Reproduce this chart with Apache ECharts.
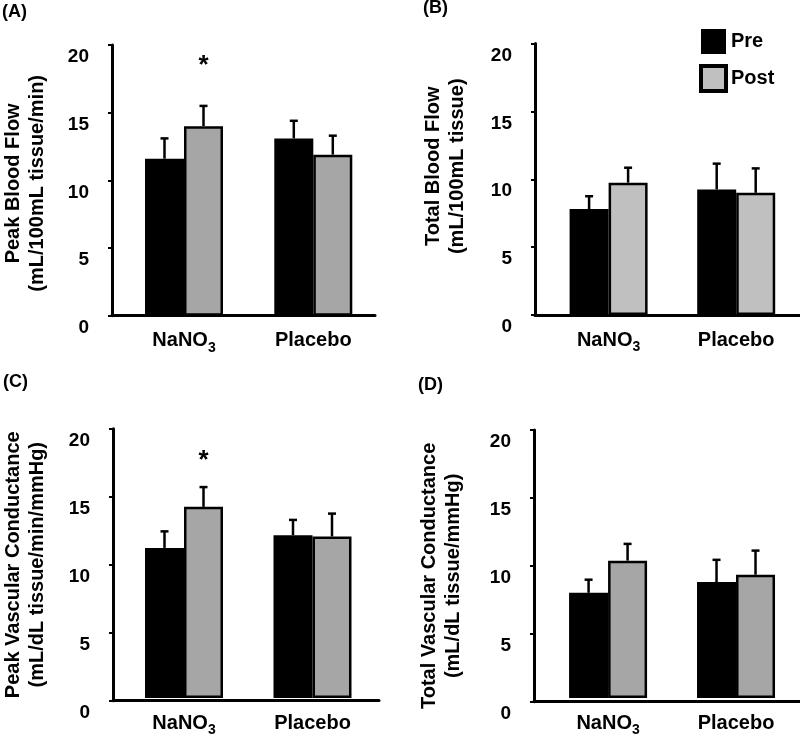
<!DOCTYPE html>
<html><head><meta charset="utf-8">
<script src="https://cdn.jsdelivr.net/npm/echarts@6/dist/echarts.min.js"></script>
<style>html,body{margin:0;padding:0;background:#fff}#c{width:800px;height:737px}</style>
</head><body><div id="c"></div>
<script>
// ---- data ----
const categories = ['NaNO3', 'Placebo'];
const seriesNames = ['Pre', 'Post'];
const yTickValues = [0, 5, 10, 15, 20];

// (A) Peak Blood Flow
const aPre = [11.6, 13.1], aPreSem = [1.5, 1.3];
const aPost = [14.0, 11.9], aPostSem = [1.5, 1.4];
const aSig = [[0, 18.45]];
// (B) Total Blood Flow
const bPre = [7.8, 9.25], bPreSem = [0.95, 1.9];
const bPost = [9.75, 9.0], bPostSem = [1.1, 1.8];
const bSig = [];
// (C) Peak Vascular Conductance
const cPre = [11.15, 12.1], cPreSem = [1.23, 1.13];
const cPost = [14.2, 12.0], cPostSem = [1.47, 1.7];
const cSig = [[0, 17.65]];
// (D) Total Vascular Conductance
const dPre = [7.85, 8.65], dPreSem = [0.98, 1.66];
const dPost = [10.25, 9.2], dPostSem = [1.25, 1.8];
const dSig = [];

const FONT = 'Liberation Sans, Arial, Helvetica, sans-serif';

const panels = [
  {title:'(A)', tl:2, tt:3, name:'Peak Blood Flow\n(mL/100mL tissue/min)',
   pre:aPre, preSem:aPreSem, post:aPost, postSem:aPostSem, sig:aSig, postColor:'#a6a6a6',
   axisX:109.5, xEnd:375, top:45, zero:315.7, c1:184, cw:129.3, nameGap:63, shift:3},
  {title:'(B)', tl:423, tt:-1, name:'Total Blood Flow\n(mL/100mL tissue)',
   pre:bPre, preSem:bPreSem, post:bPost, postSem:bPostSem, sig:bSig, postColor:'#c0c0c0',
   axisX:535, xEnd:800, top:43.5, zero:315, c1:609.3, cw:129, nameGap:66, shift:-13},
  {title:'(C)', tl:3, tt:373, name:'Peak Vascular Conductance\n(mL/dL tissue/min/mmHg)',
   pre:cPre, preSem:cPreSem, post:cPost, postSem:cPostSem, sig:cSig, postColor:'#a6a6a6',
   axisX:109.5, xEnd:379, top:428.8, zero:700.7, c1:184, cw:128.5, nameGap:64, shift:0},
  {title:'(D)', tl:418, tt:376, name:'Total Vascular Conductance\n(mL/dL tissue/mmHg)',
   pre:dPre, preSem:dPreSem, post:dPost, postSem:dPostSem, sig:dSig, postColor:'#a6a6a6',
   axisX:534, xEnd:800, top:430, zero:701.7, c1:608.3, cw:128.4, nameGap:69, shift:10}
];

const BAR_W = 39;

function errRender(offset) {
  return function (params, api) {
    const c = api.value(0), m = api.value(1), e = api.value(2);
    const p0 = api.coord([c, m]);
    const p1 = api.coord([c, m + e]);
    const x = p0[0] + offset;
    return {type: 'group', children: [
      {type: 'line', shape: {x1: x, y1: p0[1], x2: x, y2: p1[1]}, style: {stroke: '#000', lineWidth: 2.5}},
      {type: 'line', shape: {x1: x - 4, y1: p1[1], x2: x + 4, y2: p1[1]}, style: {stroke: '#000', lineWidth: 2.5}}
    ]};
  };
}
function sigRender(offset) {
  return function (params, api) {
    const p = api.coord([api.value(0), api.value(1)]);
    return {type: 'text', x: p[0] + offset, y: p[1],
      style: {text: '*', fontSize: 26, fontWeight: 'bold', fontFamily: FONT, fill: '#000',
              align: 'center', verticalAlign: 'middle'}};
  };
}

const grid = [], xAxis = [], yAxis = [], series = [], title = [];
panels.forEach((p, i) => {
  const fg = grid.length;
  grid.push({left: p.axisX, top: p.top, width: p.xEnd - p.axisX, height: p.zero - p.top});
  const bg = grid.length;
  grid.push({left: p.c1 - p.cw / 2, top: p.top, width: p.cw * 2, height: p.zero - p.top});
  title.push({text: p.title, left: p.tl, top: p.tt, padding: 0,
    textStyle: {fontSize: 18, fontWeight: 'bold', color: '#000', fontFamily: FONT}});

  // frame axes
  xAxis.push({gridIndex: fg, type: 'value', min: 0, max: 1, axisLine: {show: true, onZero: false, lineStyle: {color: '#000', width: 3}},
    axisTick: {show: false}, axisLabel: {show: false}, splitLine: {show: false}});
  yAxis.push({gridIndex: fg, type: 'value', min: yTickValues[0], max: yTickValues[yTickValues.length - 1], interval: yTickValues[1] - yTickValues[0],
    axisLine: {show: true, lineStyle: {color: '#000', width: 3}},
    axisTick: {show: true, length: 4, lineStyle: {color: '#000', width: 2}},
    splitLine: {show: false},
    axisLabel: {fontSize: 19, fontWeight: 'bold', color: '#000', fontFamily: FONT, margin: 23,
      verticalAlign: 'top', lineHeight: 24},
    name: p.name, nameLocation: 'middle', nameGap: p.nameGap,
    nameTextStyle: {fontSize: 20, fontWeight: 'bold', color: '#000', fontFamily: FONT, lineHeight: 24,
      padding: p.shift < 0 ? [0, 0, 0, -2 * p.shift] : [0, 2 * p.shift, 0, 0]}});

  // bar axes
  const bx = xAxis.length;
  xAxis.push({gridIndex: bg, type: 'category', data: categories,
    axisLine: {show: false}, axisTick: {show: false},
    axisLabel: {interval: 0, margin: 12, color: '#000', fontFamily: FONT, fontSize: 20, fontWeight: 'bold', lineHeight: 26,
      formatter: v => v === 'NaNO3' ? '{m|NaNO}{s|3}' : '{m|' + v + '}',
      rich: {m: {fontSize: 20, fontWeight: 'bold', fontFamily: FONT, color: '#000', lineHeight: 26},
             s: {fontSize: 14, fontWeight: 'bold', fontFamily: FONT, color: '#000', lineHeight: 26, padding: [14, 0, 0, 0]}}}});
  const by = yAxis.length;
  yAxis.push({gridIndex: bg, type: 'value', show: false, min: 0, max: 20});

  series.push({name: seriesNames[0], type: 'bar', xAxisIndex: bx, yAxisIndex: by, data: p.pre,
    barWidth: BAR_W, barGap: '0%', itemStyle: {color: '#000', borderColor: '#000', borderWidth: 2.5}, z: 2});
  series.push({name: seriesNames[1], type: 'bar', xAxisIndex: bx, yAxisIndex: by, data: p.post,
    barWidth: BAR_W, barGap: '0%', itemStyle: {color: p.postColor, borderColor: '#000', borderWidth: 2.5}, z: 2});
  series.push({type: 'custom', xAxisIndex: bx, yAxisIndex: by, z: 3, silent: true,
    data: p.pre.map((v, k) => [k, v, p.preSem[k]]), encode: {x: 0, y: 1}, renderItem: errRender(-BAR_W / 2)});
  series.push({type: 'custom', xAxisIndex: bx, yAxisIndex: by, z: 3, silent: true,
    data: p.post.map((v, k) => [k, v, p.postSem[k]]), encode: {x: 0, y: 1}, renderItem: errRender(BAR_W / 2)});
  if (p.sig.length) {
    series.push({type: 'custom', xAxisIndex: bx, yAxisIndex: by, z: 4, silent: true,
      data: p.sig, encode: {x: 0, y: 1}, renderItem: sigRender(BAR_W / 2)});
  }
});

const chart = echarts.init(document.getElementById('c'), null, {renderer: 'canvas'});
chart.setOption({
  animation: false,
  backgroundColor: '#fff',
  title: title,
  legend: {orient: 'vertical', left: 699, top: 29, itemWidth: 25, itemHeight: 25, itemGap: 10, icon: 'rect', padding: 0,
    selectedMode: false,
    textStyle: {fontSize: 20, fontWeight: 'bold', color: '#000', fontFamily: FONT, padding: [4, 0, 0, 0]},
    data: [{name: 'Pre', itemStyle: {color: '#000', borderColor: '#000', borderWidth: 0}},
           {name: 'Post', itemStyle: {color: '#c0c0c0', borderColor: '#000', borderWidth: 4}}]},
  grid: grid, xAxis: xAxis, yAxis: yAxis, series: series
});
</script></body></html>
